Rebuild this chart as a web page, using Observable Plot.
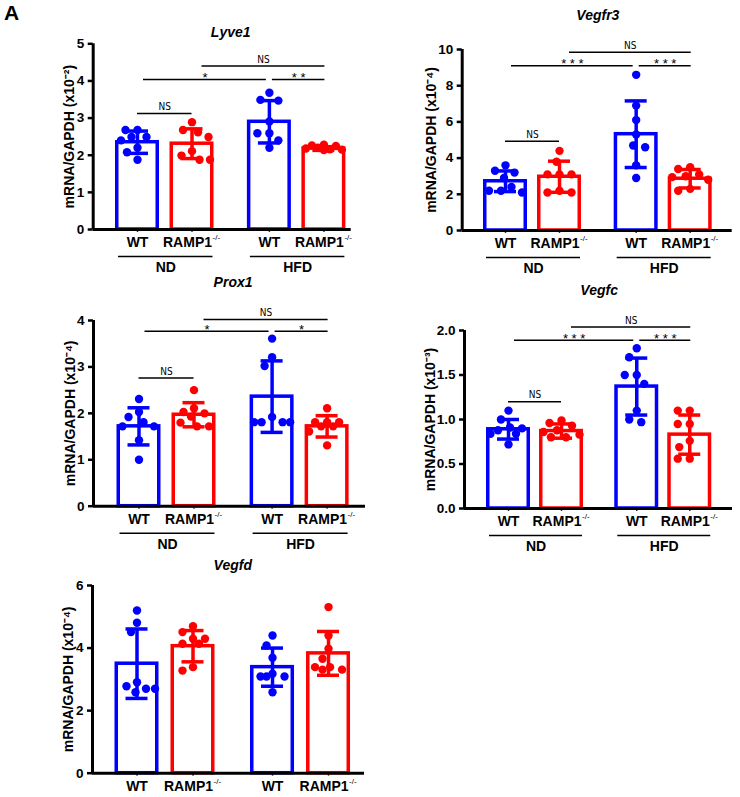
<!DOCTYPE html>
<html><head><meta charset="utf-8">
<script src="https://cdn.jsdelivr.net/npm/d3@7"></script>
<script src="https://cdn.jsdelivr.net/npm/@observablehq/plot@0.6"></script>
<style>
body{margin:0;background:#fff;font-family:"Liberation Sans",Arial,sans-serif;}
#fig{position:relative;width:740px;height:797px;overflow:hidden;background:#fff;}
.panel{position:absolute;}
#lbl{position:absolute;left:4px;top:1px;font-weight:bold;font-size:21px;font-family:"Liberation Sans",Arial,sans-serif;}
</style></head><body>
<div id="fig"><div id="lbl">A</div></div>
<script>
// ---- categories ----
const genotypes = ["WT", "RAMP1"];
const genotypeSup = ["", "-/-"];
const diets = ["ND", "HFD"];
const colors = ["#0000ff", "#ff0000"];

// ---- Lyve1 (x10^-2) ----
const lyve1Points = [
  [2.68, 2.68, 2.49, 2.49, 2.40, 2.20, 2.08, 1.88],
  [2.89, 2.68, 2.62, 2.49, 2.11, 1.99, 1.88, 1.88],
  [3.68, 3.49, 3.47, 2.91, 2.59, 2.59, 2.40, 2.20],
  [2.28, 2.26, 2.25, 2.20, 2.18, 2.16, 2.15, 2.14]
];
const lyve1Mean = [2.35, 2.31, 2.90, 2.18];
const lyve1SD = [0.30, 0.40, 0.57, 0.05];
const lyve1Ticks = [0, 1, 2, 3, 4, 5];
const lyve1Sig = [
  {a: 0, b: 1, y: 3.12, label: "NS"},
  {a: 0, b: 2, y: 4.04, label: "*"},
  {a: 2, b: 3, y: 4.04, label: "* *"},
  {a: 1, b: 3, y: 4.40, label: "NS"}
];

// ---- Vegfr3 (x10^-4) ----
const vegfr3Points = [
  [3.6, 3.3, 3.2, 2.9, 2.4, 2.2, 2.2, 2.1],
  [4.4, 3.8, 3.1, 3.1, 3.1, 2.2, 2.1, 2.1],
  [8.6, 6.9, 6.1, 5.3, 4.7, 4.6, 3.6, 2.9],
  [3.5, 3.4, 3.1, 3.0, 2.95, 2.8, 2.3, 2.2]
];
const vegfr3Mean = [2.72, 2.97, 5.32, 2.86];
const vegfr3SD = [0.57, 0.86, 1.84, 0.51];
const vegfr3Ticks = [0, 2, 4, 6, 8, 10];
const vegfr3Sig = [
  {a: 0, b: 1, y: 4.93, label: "NS"},
  {a: 0, b: 2, y: 9.10, label: "* * *"},
  {a: 2, b: 3, y: 9.10, label: "* * *"},
  {a: 1, b: 3, y: 9.85, label: "NS"}
];

// ---- Prox1 (x10^-4) ----
const prox1Points = [
  [2.31, 2.03, 1.92, 1.81, 1.72, 1.72, 1.42, 1.00],
  [2.50, 2.11, 2.03, 2.00, 1.93, 1.80, 1.72, 1.72],
  [3.61, 3.21, 3.02, 1.92, 1.81, 1.81, 1.81, 1.81],
  [2.11, 1.81, 1.81, 1.81, 1.72, 1.72, 1.61, 1.31]
];
const prox1Mean = [1.72, 1.97, 2.36, 1.72];
const prox1SD = [0.40, 0.26, 0.77, 0.23];
const prox1Ticks = [0, 1, 2, 3, 4];
const prox1Sig = [
  {a: 0, b: 1, y: 2.76, label: "NS"},
  {a: 0, b: 2, y: 3.77, label: "*"},
  {a: 2, b: 3, y: 3.77, label: "*"},
  {a: 1, b: 3, y: 4.02, label: "NS"}
];

// ---- Vegfc (x10^-3) ----
const vegfcPoints = [
  [1.10, 1.00, 0.91, 0.90, 0.88, 0.84, 0.84, 0.72],
  [0.99, 0.96, 0.93, 0.88, 0.86, 0.83, 0.80, 0.80],
  [1.80, 1.70, 1.50, 1.50, 1.40, 1.10, 1.00, 0.97],
  [1.10, 1.10, 0.95, 0.95, 0.76, 0.69, 0.56, 0.56]
];
const vegfcMean = [0.89, 0.87, 1.37, 0.83];
const vegfcSD = [0.11, 0.08, 0.32, 0.22];
const vegfcTicks = [0, 0.5, 1.0, 1.5, 2.0];
const vegfcSig = [
  {a: 0, b: 1, y: 1.20, label: "NS"},
  {a: 0, b: 2, y: 1.89, label: "* * *"},
  {a: 2, b: 3, y: 1.89, label: "* * *"},
  {a: 1, b: 3, y: 2.04, label: "NS"}
];

// ---- Vegfd (x10^-4) ----
const vegfdPoints = [
  [5.20, 4.81, 4.51, 2.91, 2.78, 2.70, 2.70, 2.59],
  [4.70, 4.51, 4.30, 4.30, 4.14, 4.14, 3.39, 3.28],
  [4.40, 4.08, 3.69, 3.18, 3.09, 3.09, 3.09, 2.59],
  [5.31, 4.40, 3.98, 3.66, 3.39, 3.39, 3.31, 3.31]
];
const vegfdMean = [3.50, 4.06, 3.39, 3.83];
const vegfdSD = [1.11, 0.50, 0.61, 0.70];
const vegfdTicks = [0, 2, 4, 6];
const vegfdSig = [];

// ---- layout helpers ----
const GROUP_GAP = 2.42; // in bar steps
const groupIndex = i => ({diet: Math.floor(i / 2), geno: i % 2});
const pos = i => groupIndex(i).diet * GROUP_GAP + groupIndex(i).geno;

// simple deterministic beeswarm (pixel offsets), limited to the bar width
function swarm(vals, kY, minDist, maxOff) {
  const order = d3.range(vals.length).sort((a, b) => vals[b] - vals[a]);
  const placed = [], out = new Array(vals.length).fill(0);
  const cands = [0];
  for (let c = 1.5; c <= maxOff; c += 1.5) cands.push(-c, c);
  for (const j of order) {
    const y = vals[j] * kY;
    let best = null, bestScore = -1, bestX = 0;
    for (const cand of cands) {
      const md = placed.length ? d3.min(placed, p => Math.hypot(p.x - cand, p.y - y)) : Infinity;
      if (md >= minDist) { best = cand; break; }
      if (md > bestScore) { bestScore = md; bestX = cand; }
    }
    if (best === null) best = bestX;
    placed.push({x: best, y});
    out[j] = best;
  }
  return out;
}

const FONT = "'Liberation Sans', Arial, Helvetica, sans-serif";

function panel(cfg) {
  const marginLeft = cfg.axisX - cfg.left;
  const marginTop = cfg.yTop - cfg.top;
  const marginBottom = cfg.top + cfg.height - cfg.y0;
  const plotH = cfg.y0 - cfg.yTop;
  const u = px => px / cfg.step;
  const xmin = -cfg.pad / cfg.step;
  const xmax = (cfg.plotW - cfg.pad) / cfg.step;
  const bars = cfg.mean.map((m, i) => ({i, geno: genotypes[i % 2], x: pos(i), mean: m, sd: cfg.sd[i]}));
  const dots = [];
  cfg.points.forEach((vals, i) => {
    const offs = swarm(vals, plotH / cfg.ymax, 11, 19);
    vals.forEach((v, j) => dots.push({geno: genotypes[i % 2], x: pos(i) + u(offs[j]), v}));
  });
  const mid = (pos(0) + pos(3)) / 2;
  const sig = cfg.sig.map(s => {
    let x1 = pos(s.a), x2 = pos(s.b);
    if (s.a === 0 && s.b === 2) { x1 += u(6); x2 -= u(3); }
    else if (s.a === 2) { x1 += u(3); x2 += u(1); }
    else if (s.a === 1 && s.b === 3) { x1 += u(10); x2 += u(1); }
    return {...s, x1, x2, xm: (x1 + x2) / 2};
  });
  const dietRows = cfg.groupsRow ? diets.map((d, k) => ({d, x1: pos(2 * k) - u(19), x2: pos(2 * k + 1) + u(21)})) : [];
  const stroke = {stroke: "geno"};
  const plot = Plot.plot({
    width: 370, height: cfg.height,
    marginLeft, marginRight: 370 - marginLeft - cfg.plotW, marginTop, marginBottom,
    x: {domain: [xmin, xmax], axis: null},
    y: {domain: [0, cfg.ymax]},
    color: {domain: genotypes, range: colors},
    style: {fontFamily: FONT, overflow: "visible", background: "transparent", color: "black"},
    marks: [
      Plot.rectY(bars, {x1: d => d.x - u(20.25), x2: d => d.x + u(20.25), y1: 0, y2: "mean", fill: "white", ...stroke, strokeWidth: 3.5}),
      Plot.ruleX(bars, {x: "x", y1: d => d.mean - d.sd, y2: d => d.mean + d.sd, ...stroke, strokeWidth: 3.5}),
      Plot.ruleY(bars, {y: d => d.mean + d.sd, x1: d => d.x - u(11), x2: d => d.x + u(11), ...stroke, strokeWidth: 3.5}),
      Plot.ruleY(bars, {y: d => d.mean - d.sd, x1: d => d.x - u(11), x2: d => d.x + u(11), ...stroke, strokeWidth: 3.5}),
      Plot.dot(dots, {x: "x", y: "v", r: 4.2, fill: "geno", stroke: null}),
      // axes
      Plot.axisY({ticks: cfg.ticks, tickFormat: cfg.fmt, tickSize: 5, tickPadding: 4, fontSize: 13.5, fontWeight: "bold", strokeWidth: 2.5, label: null}),
      Plot.axisX({ticks: bars.map(d => d.x), tickSize: 3, tickFormat: () => "", strokeWidth: 1.5, stroke: "#333", label: null}),
      Plot.ruleY([0], {strokeWidth: 3}),
      Plot.ruleX([xmin], {strokeWidth: 3}),
      // y label & title
      Plot.text([cfg.ylabel], {frameAnchor: "left", textAnchor: "middle", rotate: -90, dx: cfg.ylabelDx, fontSize: 14, fontWeight: "bold"}),
      Plot.text([cfg.title], {x: mid, y: cfg.ymax, dy: cfg.titleDy, fontSize: 14, fontWeight: "bold", fontStyle: "italic"}),
      // category labels
      Plot.text(bars.filter(d => d.i % 2 === 0), {x: "x", y: 0, dy: 13, text: d => genotypes[d.i % 2], fontSize: 14, fontWeight: "bold"}),
      Plot.text(bars.filter(d => d.i % 2 === 1), {x: "x", y: 0, dy: 13, dx: -4.5, text: d => genotypes[d.i % 2], fontSize: 14, fontWeight: "bold"}),
      Plot.text(bars.filter(d => d.i % 2 === 1), {x: "x", y: 0, dy: 8, dx: 20.5, text: d => genotypeSup[d.i % 2], fontSize: 8, textAnchor: "start"}),
      // diet group rows
      Plot.ruleY(dietRows, {y: 0, x1: "x1", x2: "x2", dy: 27, strokeWidth: 1.5}),
      Plot.text(dietRows, {x: d => (d.x1 + d.x2) / 2, y: 0, dy: 38, text: "d", fontSize: 14, fontWeight: "bold"}),
      // significance
      Plot.ruleY(sig, {y: "y", x1: "x1", x2: "x2", strokeWidth: 1.5}),
      Plot.text(sig.filter(s => s.label === "NS"), {x: "xm", y: "y", text: "label", dy: -6.5, fontSize: 10, fontFamily: "'Liberation Sans Narrow', 'DejaVu Sans Condensed', " + FONT}),
      Plot.text(sig.filter(s => s.label !== "NS"), {x: "xm", y: "y", text: "label", dy: -1.5, fontSize: 13})
    ]
  });
  const div = document.createElement("div");
  div.className = "panel";
  div.style.left = cfg.left + "px";
  div.style.top = cfg.top + "px";
  div.appendChild(plot);
  document.getElementById("fig").appendChild(div);
}

panel({title: "Lyve1", ylabel: "mRNA/GAPDH (x10⁻²)", points: lyve1Points, mean: lyve1Mean, sd: lyve1SD, ticks: lyve1Ticks, sig: lyve1Sig,
  left: 0, top: 0, height: 277, axisX: 92.7, yTop: 43.3, y0: 229, ymax: 5, plotW: 258, step: 54.5, pad: 44.3,
  titleDy: -11.5, ylabelDx: -24, groupsRow: true, fmt: d3.format("d")});
panel({title: "Vegfr3", ylabel: "mRNA/GAPDH (x10⁻⁴)", points: vegfr3Points, mean: vegfr3Mean, sd: vegfr3SD, ticks: vegfr3Ticks, sig: vegfr3Sig,
  left: 370, top: 0, height: 277, axisX: 461.7, yTop: 49, y0: 230, ymax: 10, plotW: 270, step: 54, pad: 43.3,
  titleDy: -34, ylabelDx: -31, groupsRow: true, fmt: d3.format("d")});
panel({title: "Prox1", ylabel: "mRNA/GAPDH (x10⁻⁴)", points: prox1Points, mean: prox1Mean, sd: prox1SD, ticks: prox1Ticks, sig: prox1Sig,
  left: 0, top: 277, height: 273, axisX: 93, yTop: 320, y0: 505.7, ymax: 4, plotW: 272, step: 55, pad: 45.5,
  titleDy: -38, ylabelDx: -23, groupsRow: true, fmt: d3.format("d")});
panel({title: "Vegfc", ylabel: "mRNA/GAPDH (x10⁻³)", points: vegfcPoints, mean: vegfcMean, sd: vegfcSD, ticks: vegfcTicks, sig: vegfcSig,
  left: 370, top: 277, height: 273, axisX: 464, yTop: 330, y0: 508, ymax: 2, plotW: 268, step: 53, pad: 44,
  titleDy: -40, ylabelDx: -34, groupsRow: true, fmt: d3.format(".1f")});
panel({title: "Vegfd", ylabel: "mRNA/GAPDH (x10⁻⁴)", points: vegfdPoints, mean: vegfdMean, sd: vegfdSD, ticks: vegfdTicks, sig: vegfdSig,
  left: 0, top: 550, height: 247, axisX: 92, yTop: 585, y0: 772.7, ymax: 6, plotW: 272, step: 56, pad: 44.5,
  titleDy: -20, ylabelDx: -24, groupsRow: false, fmt: d3.format("d")});
</script>
</body></html>
